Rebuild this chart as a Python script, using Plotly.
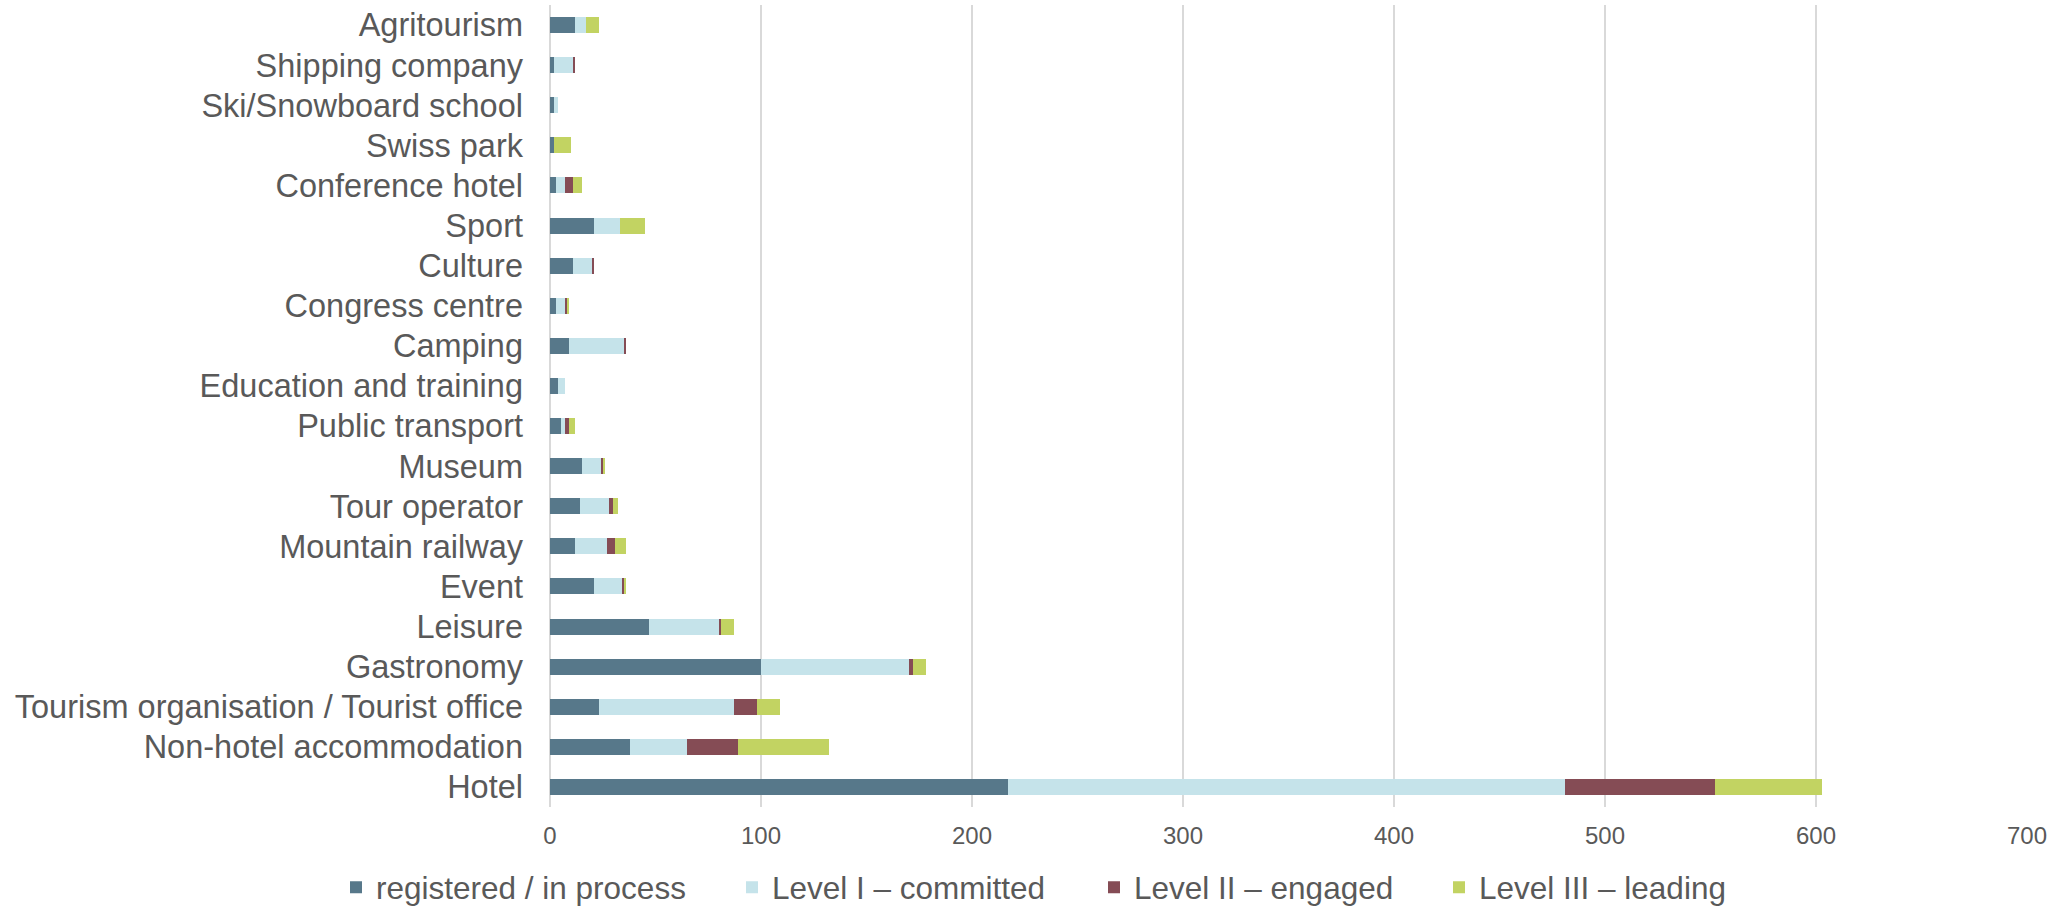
import plotly.graph_objects as go

categories = [
    "Agritourism", "Shipping company", "Ski/Snowboard school", "Swiss park",
    "Conference hotel", "Sport", "Culture", "Congress centre", "Camping",
    "Education and training", "Public transport", "Museum", "Tour operator",
    "Mountain railway", "Event", "Leisure", "Gastronomy",
    "Tourism organisation / Tourist office", "Non-hotel accommodation", "Hotel",
]
registered = [12, 2, 2, 2, 3, 21, 11, 3, 9, 4, 5, 15, 14, 12, 21, 47, 100, 23, 38, 217]
level1 = [5, 9, 2, 0, 4, 12, 9, 4, 26, 3, 2, 9, 14, 15, 13, 33, 70, 64, 27, 264]
level2 = [0, 1, 0, 0, 4, 0, 1, 1, 1, 0, 2, 1, 2, 4, 1, 1, 2, 11, 24, 71]
level3 = [6, 0, 0, 8, 4, 12, 0, 1, 0, 0, 3, 1, 2, 5, 1, 6, 6, 11, 43, 51]

series_names = ["registered / in process", "Level I \u2013 committed",
                "Level II \u2013 engaged", "Level III \u2013 leading"]
series_values = [registered, level1, level2, level3]
colors = ["#57788A", "#C5E3EA", "#854C55", "#C2D362"]
legend_ids = ["legend", "legend2", "legend3", "legend4"]

W, H = 2057, 909
ML, MR, MT, MB = 550, 30, 5, 102
plot_w = W - ML - MR
FONT = "Liberation Sans, Arial, sans-serif"
GRAY = "#595959"

fig = go.Figure()
for name, vals, col, lg in zip(series_names, series_values, colors, legend_ids):
    fig.add_trace(go.Bar(
        y=categories, x=vals, name=name, orientation="h",
        marker=dict(color=col, line=dict(width=0)),
        legend=lg,
    ))

# legend text start positions (px) in the reference
text_starts = [376, 772, 1134, 1479]
legend_layouts = {}
for lg, tx in zip(legend_ids, text_starts):
    legend_layouts[lg] = dict(
        orientation="h", x=(tx - 40 - ML) / plot_w, xanchor="left",
        y=-0.100, yanchor="middle", font=dict(family=FONT, size=31.5, color=GRAY),
        bgcolor="rgba(0,0,0,0)", borderwidth=0, itemwidth=30,
    )

fig.update_layout(
    width=W, height=H,
    margin=dict(l=ML, r=MR, t=MT, b=MB, pad=0, autoexpand=False),
    barmode="stack", bargap=0.6,
    plot_bgcolor="white", paper_bgcolor="white",
    font=dict(family=FONT, color=GRAY),
    showlegend=True,
    xaxis=dict(
        range=[0, 700], dtick=100, tick0=0,
        showgrid=True, gridcolor="#D9D9D9", gridwidth=1.5,
        zeroline=True, zerolinecolor="#D9D9D9", zerolinewidth=1.5,
        showline=False, ticks="",
        tickfont=dict(family=FONT, size=24, color=GRAY),
        ticklabelstandoff=12, automargin=False,
    ),
    yaxis=dict(
        autorange="reversed", showgrid=False, showline=False, ticks="",
        tickfont=dict(family=FONT, size=32.5, color=GRAY),
        ticklabelstandoff=26, automargin=False,
    ),
    **legend_layouts,
)

fig.write_html("out.html")
